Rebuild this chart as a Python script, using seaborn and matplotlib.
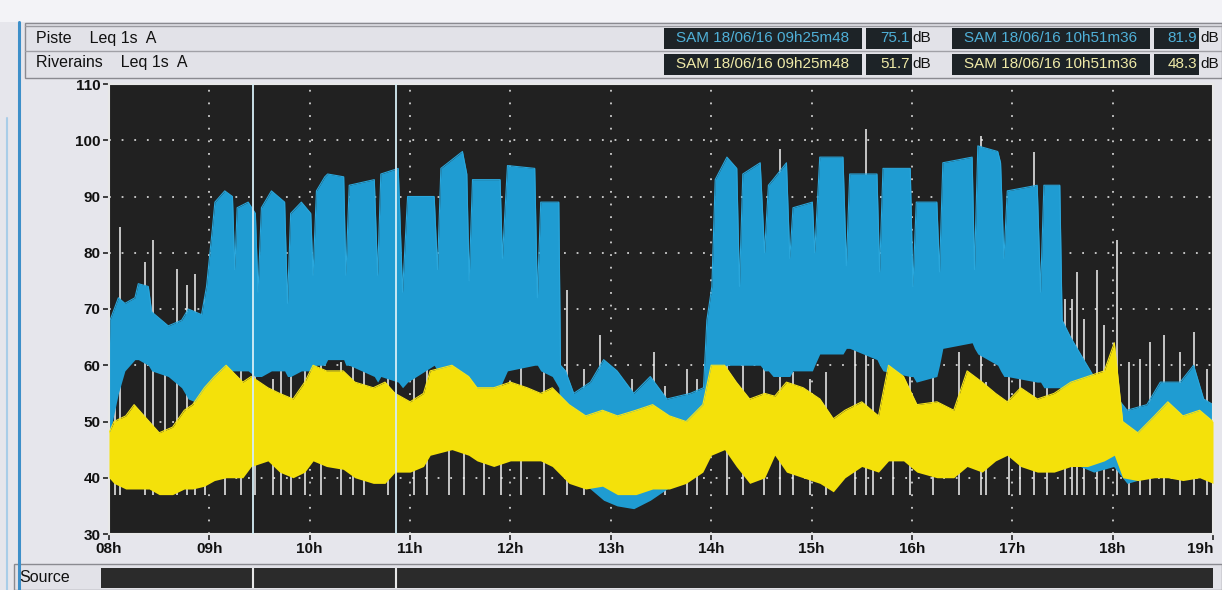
import numpy as np
import matplotlib
matplotlib.use("Agg")
import matplotlib.pyplot as plt
from matplotlib.patches import Rectangle
from matplotlib.lines import Line2D
import seaborn as sns

# minutes after 08h00, levels in dB(A)
piste_t = [0, 0.6, 5.6, 9.5, 15.5, 17.5, 23.5, 25.5, 35.4, 43.4, 47.4, 55.3, 58.3, 61.7, 63.3,
           69.2, 73.8, 75.2, 76.6, 83.2, 87.5, 89.1, 91.1, 97.1, 105, 106.7, 108.6, 115, 120.6,
           122, 124, 129, 130.7, 140.3, 141.6, 143.6, 158.6, 160.6, 162.5, 172.9, 175.5, 178.5,
           194.4, 196.4, 198.4, 211.3, 213.9, 215.3, 217.3, 233.8, 235.2, 238.2, 254.5, 256.1,
           258.1, 265, 268.9, 269.9, 272.9, 277.8, 287.8, 295.7, 303.7, 313.7, 323.6, 333.5,
           347.5, 355.4, 357.4, 360.4, 362.4, 369.4, 375.3, 376.9, 378.9, 389.3, 391.9, 394.2,
           397, 405, 407, 408.9, 420.5, 421.9, 424.9, 438.8, 440.8, 442.8, 459.1, 460.7, 462.7,
           479, 480.6, 482.6, 494.9, 496.5, 498.5, 516, 517.4, 519.4, 531.3, 533, 535, 537,
           554.9, 556.9, 558.9, 568.4, 569.8, 574.8, 580.7, 588.7, 600.6, 608.6, 620.5, 628.5,
           640.4, 648.4, 654.4, 660]
piste_hi = [60, 68, 72, 71, 72, 74.5, 74, 69.5, 67, 68, 70, 69, 74, 84, 89,
            91, 90, 77, 88, 89, 87, 73, 88, 91, 89, 71, 87, 89, 87,
            76, 91, 93.5, 94, 93.5, 76, 92, 93, 76, 94, 95, 73, 90,
            90, 77, 95, 98, 94, 75, 93, 93, 79, 95.5, 95, 72,
            89, 89, 89, 60, 59, 55, 57, 61, 59, 55, 58, 54,
            55, 56, 68, 74, 93, 97, 95, 74, 94, 96, 80, 92,
            93, 96, 79, 88, 89, 80, 97, 97, 77.7, 94, 94, 76.6, 95,
            95, 74, 89, 89, 76.6, 96, 97, 77, 99, 98, 96, 79, 91,
            92, 73, 92, 92, 68, 65, 62, 58, 55, 52, 53, 57,
            57, 60, 54, 53]
piste_lo = [47, 48, 55, 59, 61, 61, 60, 59, 58, 56, 54, 53, 54, 56, 57,
            59, 59, 59, 59, 59, 58, 58, 58, 59, 59, 58, 58, 59, 59,
            59, 60, 60, 61, 61, 60, 60, 58, 57, 58, 57, 56, 57,
            60, 59, 57, 56, 55, 55, 55, 56, 57, 59, 60, 60,
            59, 58, 56, 50, 42, 40, 38, 36, 35, 34.5, 36, 38,
            40, 43, 50, 56, 59, 60, 60, 60, 60, 60, 59, 59,
            58, 58, 58, 59, 59, 60, 62, 62, 63, 63, 61, 60, 59,
            58, 58, 57, 58, 60, 63, 64, 63, 62, 60, 59, 58, 58,
            57, 57, 56, 56, 45, 43, 42, 41, 42, 39, 40, 43,
            44, 44, 42, 42]

riv_t = [0, 3, 10, 15, 24, 30, 38, 45, 50, 57, 63, 70, 80, 85, 95, 102, 110, 117, 122, 130,
         140, 147, 158, 165, 171, 180, 188, 192, 205, 215, 220, 230, 240, 250, 258,
         265, 275, 285, 295, 304, 315, 325, 335, 345, 355, 360, 368, 375, 383, 392,
         398, 405, 415, 425, 433, 440, 450, 460, 466, 475, 483, 495, 505, 513, 522, 530,
         537, 545, 555, 565, 575, 585, 595, 601, 606, 615, 625, 633, 642, 652, 660]
riv_hi = [48, 50, 51, 53, 50, 48, 49, 52, 53, 56, 58, 60, 57, 58, 56, 55, 54, 57, 60, 59,
          59, 57, 56, 57, 55, 53.5, 55, 59, 60, 58, 56, 56, 57, 56, 55,
          56, 53, 51, 52, 51, 52, 53, 51, 50, 53, 60, 60, 57, 54, 55,
          54.5, 57, 56, 54, 50.5, 52, 53.5, 51, 60, 58, 53, 53.5, 52, 59, 57, 55,
          53.5, 56, 54, 55, 57, 58, 59, 64, 50, 48, 51, 53.5, 51, 52, 50]
riv_lo = [40, 39, 38, 38, 38, 37, 37, 38, 38, 38.5, 39.5, 40, 40, 42, 43, 41, 40, 41, 43, 42,
          41.5, 40, 39, 39, 41, 41, 42, 44, 45, 44, 43, 42, 43, 43, 43,
          42, 39, 38, 38.5, 37, 37, 38, 38, 39, 41, 44, 45, 42, 39, 40,
          44, 41, 40, 39, 37.5, 40, 42, 41, 43, 43, 41, 40, 40, 42, 41, 43,
          44, 42, 41, 41, 42, 42, 43, 44, 40, 39.5, 40, 40, 39.5, 40, 39]

# thin white peaks
peak_t = [3.6, 6.6, 21.5, 26.5, 33.4, 40.4, 46.4, 51.3, 57.3, 69.2, 79.2, 87.2, 98.1, 103, 109,
          117, 127, 138.7, 145.6, 152.6, 166.5, 182.4, 190.4, 203.3, 212.3, 224.2, 234.2,
          246.1, 260, 273.9, 283.8, 293.8, 296.7, 305.7, 312.7, 325.6, 332.6, 345.5, 351.5,
          369.4, 379.3, 391.3, 401, 408.9, 418.9, 428.8, 445.8, 452.7, 456.7, 468.6, 478.6,
          492.5, 508.4, 521.4, 524.4, 538, 544.9, 552.9, 560.8, 571.8, 575.8, 578.8, 582.7,
          590.7, 594.7, 602.6, 609.6, 616.6, 622.5, 630.5, 640.4, 648.4, 656.4]
peak_hi = [69.5, 84.6, 78.3, 82.2, 60, 77.2, 74.2, 76.3, 71.8, 62.4, 63.5, 67, 57.6, 62.4, 59.4,
           64.7, 60.6, 60.6, 63.5, 63, 67, 61.2, 63.5, 73, 60.6, 64.1, 61.2,
           63.5, 62.4, 73.3, 59.4, 65.3, 60.6, 57, 57.6, 62.4, 56.4, 59.4, 57.6,
           63.5, 61.2, 62.4, 98.5, 58.8, 57.6, 58.8, 73.6, 102, 61.2, 58.8, 64.7,
           61.2, 62.4, 100.8, 57, 58.2, 61.2, 97.9, 59.4, 71.8, 71.8, 76.6, 68.3,
           76.9, 67.1, 82.2, 60.6, 61.2, 64.1, 65.3, 62.4, 65.9, 59.4]

cursors = [85.8, 171.6]
hours = ["08h", "09h", "10h", "11h", "12h", "13h", "14h", "15h", "16h", "17h", "18h", "19h"]
levels = [30, 40, 50, 60, 70, 80, 90, 100, 110]

W, H = 1222, 590
sns.set_theme(style="dark")
plt.rcParams["font.family"] = ["Liberation Sans", "DejaVu Sans"]

fig = plt.figure(figsize=(W / 100, H / 100), dpi=100)
fig.patch.set_facecolor("#e6e6ec")


def box(x0, y0, x1, y1, **kw):
    fig.add_artist(Rectangle((x0 / W, 1 - y1 / H), (x1 - x0) / W, (y1 - y0) / H,
                             transform=fig.transFigure, **kw))


def hline(y, x0, x1, **kw):
    fig.add_artist(Line2D([x0 / W, x1 / W], [1 - y / H, 1 - y / H], transform=fig.transFigure, **kw))


def vline(x, y0, y1, **kw):
    fig.add_artist(Line2D([x / W, x / W], [1 - y0 / H, 1 - y1 / H], transform=fig.transFigure, **kw))


def txt(x, y, s, **kw):
    fig.text(x / W, 1 - y / H, s, va="center", **kw)


# window frame
box(0, 0, W, 22, facecolor="#f3f3f7", edgecolor="none")
vline(19, 22, 590, color="#3d8fc9", lw=2.2)
vline(7, 118, 590, color="#a9cde8", lw=1.5)
box(25, 23, 1222, 78, facecolor="#e2e2e8", edgecolor="#8a8a90", lw=1)
hline(26, 25, 1222, color="#9a9aa0", lw=1)
hline(51, 25, 1222, color="#a0a0a6", lw=1)

txt(36, 38, "Piste    Leq 1s  A", fontsize=11.5, color="#111111")
txt(36, 63, "Riverains    Leq 1s  A", fontsize=11.5, color="#111111")

rows = [(28, 49, "#4fb0d8", "SAM 18/06/16 09h25m48", "75.1", "SAM 18/06/16 10h51m36", "81.9"),
        (54, 75, "#efeaa8", "SAM 18/06/16 09h25m48", "51.7", "SAM 18/06/16 10h51m36", "48.3")]
for y0, y1, col, d1, v1, d2, v2 in rows:
    yc = (y0 + y1) / 2
    box(664, y0, 862, y1, facecolor="#1d2327", edgecolor="none")
    box(866, y0, 912, y1, facecolor="#1d2327", edgecolor="none")
    box(952, y0, 1150, y1, facecolor="#1d2327", edgecolor="none")
    box(1154, y0, 1199, y1, facecolor="#1d2327", edgecolor="none")
    txt(763, yc, d1, fontsize=11, color=col, ha="center")
    txt(910, yc, v1, fontsize=11, color=col, ha="right")
    txt(912, yc, "dB", fontsize=11, color="#111111")
    txt(1051, yc, d2, fontsize=11, color=col, ha="center")
    txt(1197, yc, v2, fontsize=11, color=col, ha="right")
    txt(1200, yc, "dB", fontsize=11, color="#111111")

# main chart
ax = fig.add_axes([109 / W, 1 - 534 / H, 1104 / W, 450 / H])
ax.set_facecolor("#212121")
ax.fill_between(piste_t, piste_lo, piste_hi, color="#1f9cd2", lw=0, zorder=2)
sns.lineplot(x=piste_t, y=piste_hi, ax=ax, color="#2aa7dc", lw=0.8, zorder=2.1, sort=False)
ax.vlines(peak_t, 37, peak_hi, color="#f2f2f2", lw=1.1, zorder=1.8)
ax.fill_between(riv_t, riv_lo, riv_hi, color="#f4e10a", lw=0, zorder=3)
sns.lineplot(x=riv_t, y=riv_hi, ax=ax, color="#f6e51c", lw=0.8, zorder=3.1, sort=False)
for c in cursors:
    ax.axvline(c, color="#d6eef6", lw=1.3, zorder=4)

ax.set_xlim(0, 660)
ax.set_ylim(30, 110)
ax.set_xticks(range(0, 661, 60))
ax.set_xticklabels(hours)
ax.set_yticks(levels)
ax.set_yticklabels([str(v) for v in levels])
for v in levels[1:-1]:
    ax.axhline(v, color="#d0d0d0", lw=1.3, ls=(0, (1, 6)), zorder=1)
for m in range(60, 660, 60):
    ax.axvline(m, color="#d0d0d0", lw=1.3, ls=(0, (1, 6)), zorder=1)
ax.grid(False)
ax.tick_params(axis="both", which="both", direction="out", length=4, width=1.2,
               color="#222222", labelsize=11, labelcolor="#111111", pad=2,
               bottom=True, left=True)
for lab in ax.get_xticklabels() + ax.get_yticklabels():
    lab.set_fontweight("bold")
ax.get_xticklabels()[-1].set_horizontalalignment("right")
for s in ax.spines.values():
    s.set_color("#e8e8e8")
    s.set_linewidth(1.5)
ax.set_xlabel("")
ax.set_ylabel("")

# source strip
box(14, 564, 1222, 590, facecolor="#e2e2e8", edgecolor="#8a8a90", lw=1)
txt(19, 578, "Source", fontsize=11.5, color="#111111")
box(101, 568, 1213, 588, facecolor="#2b2b2b", edgecolor="none")
sax = fig.add_axes([109 / W, 1 - 588 / H, 1104 / W, 20 / H])
sax.set_zorder(5)
sax.patch.set_alpha(0)
sax.set_xlim(0, 660)
sax.set_ylim(0, 1)
sax.axis("off")
for c in cursors:
    sax.axvline(c, color="#e8e8e8", lw=1.5)

fig.savefig("out.png", dpi=100, facecolor=fig.get_facecolor())
